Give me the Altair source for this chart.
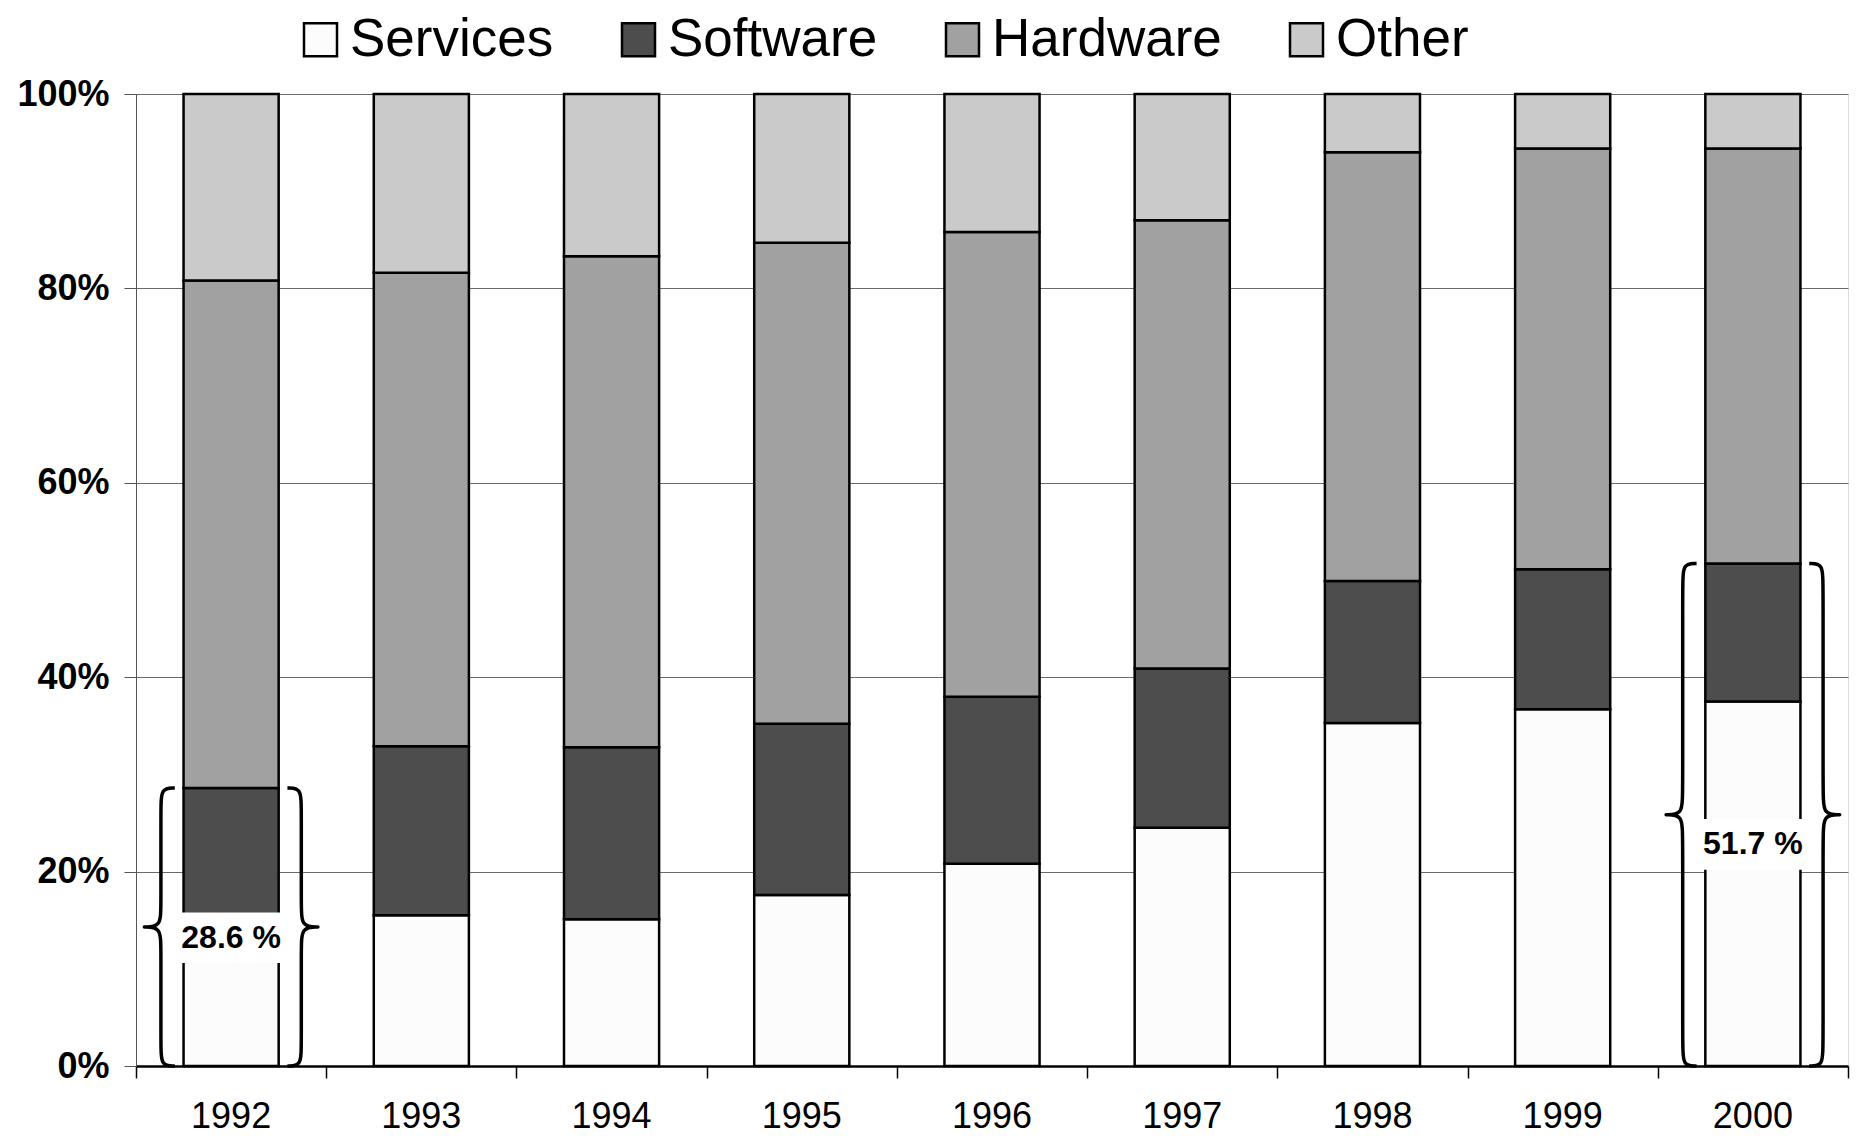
import altair as alt
import pandas as pd

# ---------------- data ----------------
years = ["1992", "1993", "1994", "1995", "1996", "1997", "1998", "1999", "2000"]
categories = ["Services", "Software", "Hardware", "Other"]
services = [13.5, 15.5, 15.1, 17.6, 20.8, 24.5, 35.3, 36.7, 37.5]
software = [15.1, 17.4, 17.7, 17.6, 17.2, 16.4, 14.6, 14.4, 14.2]
hardware = [52.2, 48.7, 50.5, 49.5, 47.8, 46.1, 44.1, 43.3, 42.7]
other = [19.2, 18.4, 16.7, 15.3, 14.2, 13.0, 6.0, 5.6, 5.6]
colors = ["#fcfcfc", "#4d4d4d", "#a1a1a1", "#cacaca"]

annot_years = ["1992", "2000"]
annot_labels = ["28.6 %", "51.7 %"]
annot_label_y = [13.2, 22.8]

y_ticks = [0, 20, 40, 60, 80, 100]

FONT = "Liberation Sans"

# ---------------- tables ----------------
series = [services, software, hardware, other]
rows = []
for ci, (cat, vals) in enumerate(zip(categories, series)):
    for yr, v in zip(years, vals):
        rows.append({"year": yr, "category": cat, "value": v, "order": ci})
df = pd.DataFrame(rows)

# braces built from the annotated (services + software) totals
VERT, HOOK, TIP = 0.369, 0.296, 0.46
R = 2.2
brace_rows = []
box_rows = []
for ai, yr in enumerate(annot_years):
    i = years.index(yr)
    c = i + 0.5
    v = services[i] + software[i]
    m = v / 2.0
    for side in (-1, 1):
        pts = [
            (HOOK, v), (VERT, v), (VERT, v - R), (VERT, m + R), (VERT, m),
            (TIP, m), (TIP, m), (VERT, m), (VERT, m - R), (VERT, R),
            (VERT, 0.0), (HOOK, 0.0),
        ]
        for k, (dx, yy) in enumerate(pts):
            brace_rows.append({"bid": f"{yr}_{side}", "k": k,
                               "x": c + side * dx, "y": yy})
    ly = annot_label_y[ai]
    box_rows.append({"x": c - 0.28, "x2": c + 0.28, "y": ly - 2.6, "y2": ly + 2.6,
                     "xc": c, "yc": ly, "label": annot_labels[ai]})
bdf = pd.DataFrame(brace_rows)
boxdf = pd.DataFrame(box_rows)
tickdf = pd.DataFrame({"x": [float(t) for t in range(len(years) + 1)]})

W, H = 1712, 972
qx = alt.Scale(domain=[0, len(years)], nice=False, zero=False)
yscale = alt.Scale(domain=[0, 100], nice=False)
# category-boundary ticks (between the bars), drawn from the quantitative twin scale
qaxis = alt.Axis(orient="bottom", values=list(range(len(years) + 1)),
                 labels=False, tickSize=12, tickColor="black", tickWidth=1.5,
                 domain=False, grid=False, title=None)

bars = alt.Chart(df).mark_bar(stroke="black", strokeWidth=2.5).encode(
    x=alt.X("year:N", sort=years, title=None,
            scale=alt.Scale(paddingInner=0.5, paddingOuter=0.25),
            axis=alt.Axis(orient="bottom", labelAngle=0, labelFontSize=36,
                          labelColor="black", labelFont=FONT, ticks=False,
                          domainColor="black", domainWidth=2.5,
                          labelPadding=33, grid=False)),
    y=alt.Y("value:Q", stack="zero", scale=yscale, title=None,
            axis=alt.Axis(values=y_ticks, labelExpr="datum.value + '%'",
                          labelFontSize=36, labelFontWeight="bold",
                          labelColor="black", labelFont=FONT, tickSize=12,
                          tickColor="#555555", domainColor="#555555",
                          labelPadding=15, grid=True, gridColor="#6a6a6a",
                          gridWidth=1.2)),
    color=alt.Color("category:N", sort=categories,
                    scale=alt.Scale(domain=categories, range=colors),
                    legend=alt.Legend(title=None, orient="none", legendX=158,
                                      legendY=-81, direction="horizontal",
                                      labelFontSize=53, labelFont=FONT,
                                      labelColor="black", labelLimit=0,
                                      symbolType="square",
                                      symbolSize=1089, symbolStrokeColor="black",
                                      symbolStrokeWidth=2.5, labelOffset=3,
                                      columnPadding=58)),
    order=alt.Order("order:Q"),
)

xticks = alt.Chart(tickdf).mark_point(opacity=0).encode(
    x=alt.X("x:Q", scale=qx, axis=qaxis),
)

braces = alt.Chart(bdf).mark_line(color="black", strokeWidth=3.5,
                                  interpolate="basis").encode(
    x=alt.X("x:Q", scale=qx, axis=qaxis),
    y=alt.Y("y:Q", scale=yscale),
    detail="bid:N",
    order="k:Q",
)

boxes = alt.Chart(boxdf).mark_rect(color="white").encode(
    x=alt.X("x:Q", scale=qx, axis=qaxis),
    x2="x2:Q",
    y=alt.Y("y:Q", scale=yscale),
    y2="y2:Q",
)

labels = alt.Chart(boxdf).mark_text(fontSize=32, fontWeight="bold", font=FONT,
                                    color="black").encode(
    x=alt.X("xc:Q", scale=qx, axis=qaxis),
    y=alt.Y("yc:Q", scale=yscale),
    text="label:N",
)

chart = alt.layer(bars, alt.layer(xticks, braces, boxes, labels)).resolve_scale(
    x="independent"
).properties(
    width=W, height=H,
    autosize=alt.AutoSizeParams(type="none"),
    padding={"left": 128, "top": 86, "right": 2, "bottom": 70},
).configure_view(
    stroke="#888888", strokeWidth=1.5
).configure(font=FONT, background="white")

chart.save("out.html", embed_options={"renderer": "svg", "actions": False})
